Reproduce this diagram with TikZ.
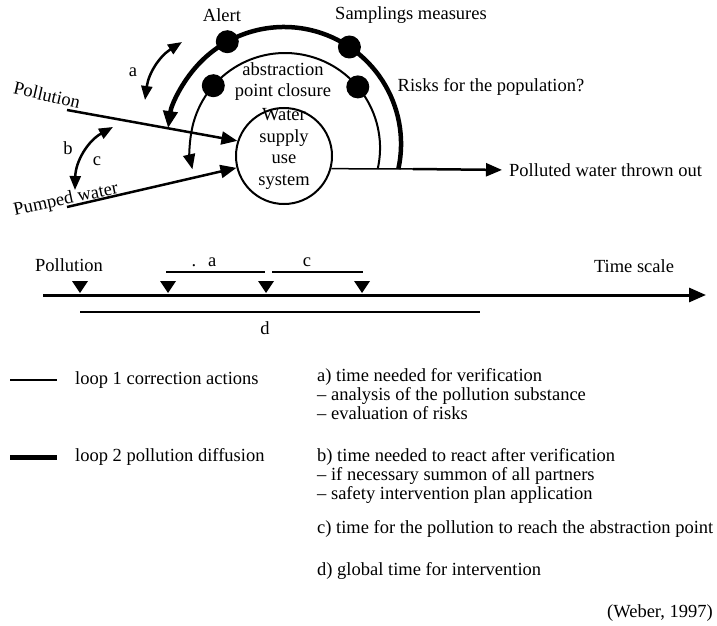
\documentclass[tikz,border=0pt]{standalone}
\usepackage{fontspec}
\setmainfont{Liberation Serif}
\usetikzlibrary{arrows.meta}
\tikzstyle{every node}=[font=\fontsize{18.5}{19}\selectfont, inner sep=0pt]
\tikzstyle{loopone}=[line width=2pt]
\tikzstyle{looptwo}=[line width=4.5pt]
\tikzstyle{flow}=[line width=2.5pt, -{Triangle[length=16pt,width=13pt]}]
\tikzstyle{delay}=[line width=2.5pt, {Triangle[length=14pt,width=11pt]}-{Triangle[length=14pt,width=11pt]}]
\tikzstyle{dot}=[circle, fill, minimum size=23pt]
\tikzstyle{bar}=[line width=2.5pt]

\begin{document}
\begin{tikzpicture}[x=1pt, y=-1pt]
\useasboundingbox (0,0) rectangle (717,626);
% Water supply system
    \node[draw, circle, line width=2pt, minimum size=96pt] (water) at (284,156) {};
    \node[align=center, font=\fontsize{18.5}{21.5}\selectfont] (wtext) at (284,149) {Water\\supply\\use\\system};
% Inputs
    \coordinate (pollstart) at (67,110);
    \coordinate (pumpstart) at (67,207);
    \draw[flow] (pollstart) -- (water.162);
    \draw[flow] (pumpstart) -- (water.194);
    \node[rotate=-13] (pollution) at (47,95) {Pollution};
    \node[rotate=12] (pumped) at (66,200) {Pumped water};
% Output
    \coordinate (outmid) at (413,169);
    \node[anchor=west] (thrown) at (509,170) {Polluted water thrown out};
    \draw[line width=1.5pt] (water.-15.7) -- (outmid);
    \draw[flow, shorten >=7pt] (outmid) -- (thrown.west);
% Loops
    \coordinate (outerend) at (398.3,169.1);
    \coordinate (innerend) at (377.7,168.9);
    \draw[looptwo, -{Triangle[length=17pt,width=14pt]}] (outerend) arc[start angle=12.4, end angle=-172.2, radius=117];
    \draw[loopone, -{Triangle[length=15pt,width=12pt]}] (innerend) arc[start angle=12.7, end angle=-192.9, radius=95];
    \node[dot] (alertdot) at (227.3,41.7) {};
    \node[dot] (samplingdot) at (349.4,47.0) {};
    \node[dot] (closuredot) at (213.3,85.7) {};
    \node[dot] (riskdot) at (357.8,86.9) {};
    \node (alert) at (222,15) {Alert};
    \node (samplings) at (411,15) {Samplings measures};
    \node[align=center] (closure) at (283,82) {abstraction\\[2pt]point closure};
    \node (risks) at (491,87) {Risks for the population?};
% Delays
    \coordinate (atop) at (182,42);
    \coordinate (abot) at (145,100);
    \coordinate (btop) at (113,127);
    \coordinate (bbot) at (75,190);
    \draw[delay] (atop) to[bend right=25] (abot);
    \draw[delay] (btop) to[bend right=30] (bbot);
    \node (lbla) at (133,72) {a};
    \node (lblb) at (68,148) {b};
    \node (lblc) at (97,161) {c};
% Time scale
    \coordinate (tstart) at (43,295);
    \coordinate (tend) at (706,295);
    \draw[line width=3pt, -{Triangle[length=17pt,width=14pt]}] (tstart) -- (tend);
    \fill (72,281) -- (88,281) -- (80,293) -- cycle;
    \fill (160,281) -- (176,281) -- (168,293) -- cycle;
    \fill (258,281) -- (274,281) -- (266,293) -- cycle;
    \fill (354,281) -- (370,281) -- (362,293) -- cycle;
    \draw[bar] (166,272) -- (265,272);
    \draw[bar] (272,272) -- (363,272);
    \draw[bar] (80,312) -- (480,312);
    \node (tpollution) at (69,265) {Pollution};
    \node (ta) at (204,262) {.\hspace{12pt}a};
    \node (tc) at (307,262) {c};
    \node (td) at (265,328) {d};
    \node (timescale) at (634,266) {Time scale};
% Legend
    \draw[loopone] (10,380) -- (57,380);
    \draw[line width=5pt] (10,457) -- (57,457);
    \node[anchor=west] (loop1) at (75,380) {loop 1 correction actions};
    \node[anchor=west] (loop2) at (75,457) {loop 2 pollution diffusion};
    \node[anchor=west, align=left] (defa) at (317,394) {a) time needed for verification\\– analysis of the pollution substance\\– evaluation of risks};
    \node[anchor=west, align=left] (defb) at (317,476) {b) time needed to react after verification\\– if necessary summon of all partners\\– safety intervention plan application};
    \node[anchor=west] (defc) at (317,529) {c) time for the pollution to reach the abstraction point};
    \node[anchor=west] (defd) at (317,571) {d) global time for intervention};
    \node[anchor=east] (source) at (713,613) {(Weber, 1997)};
\end{tikzpicture}
\end{document}
